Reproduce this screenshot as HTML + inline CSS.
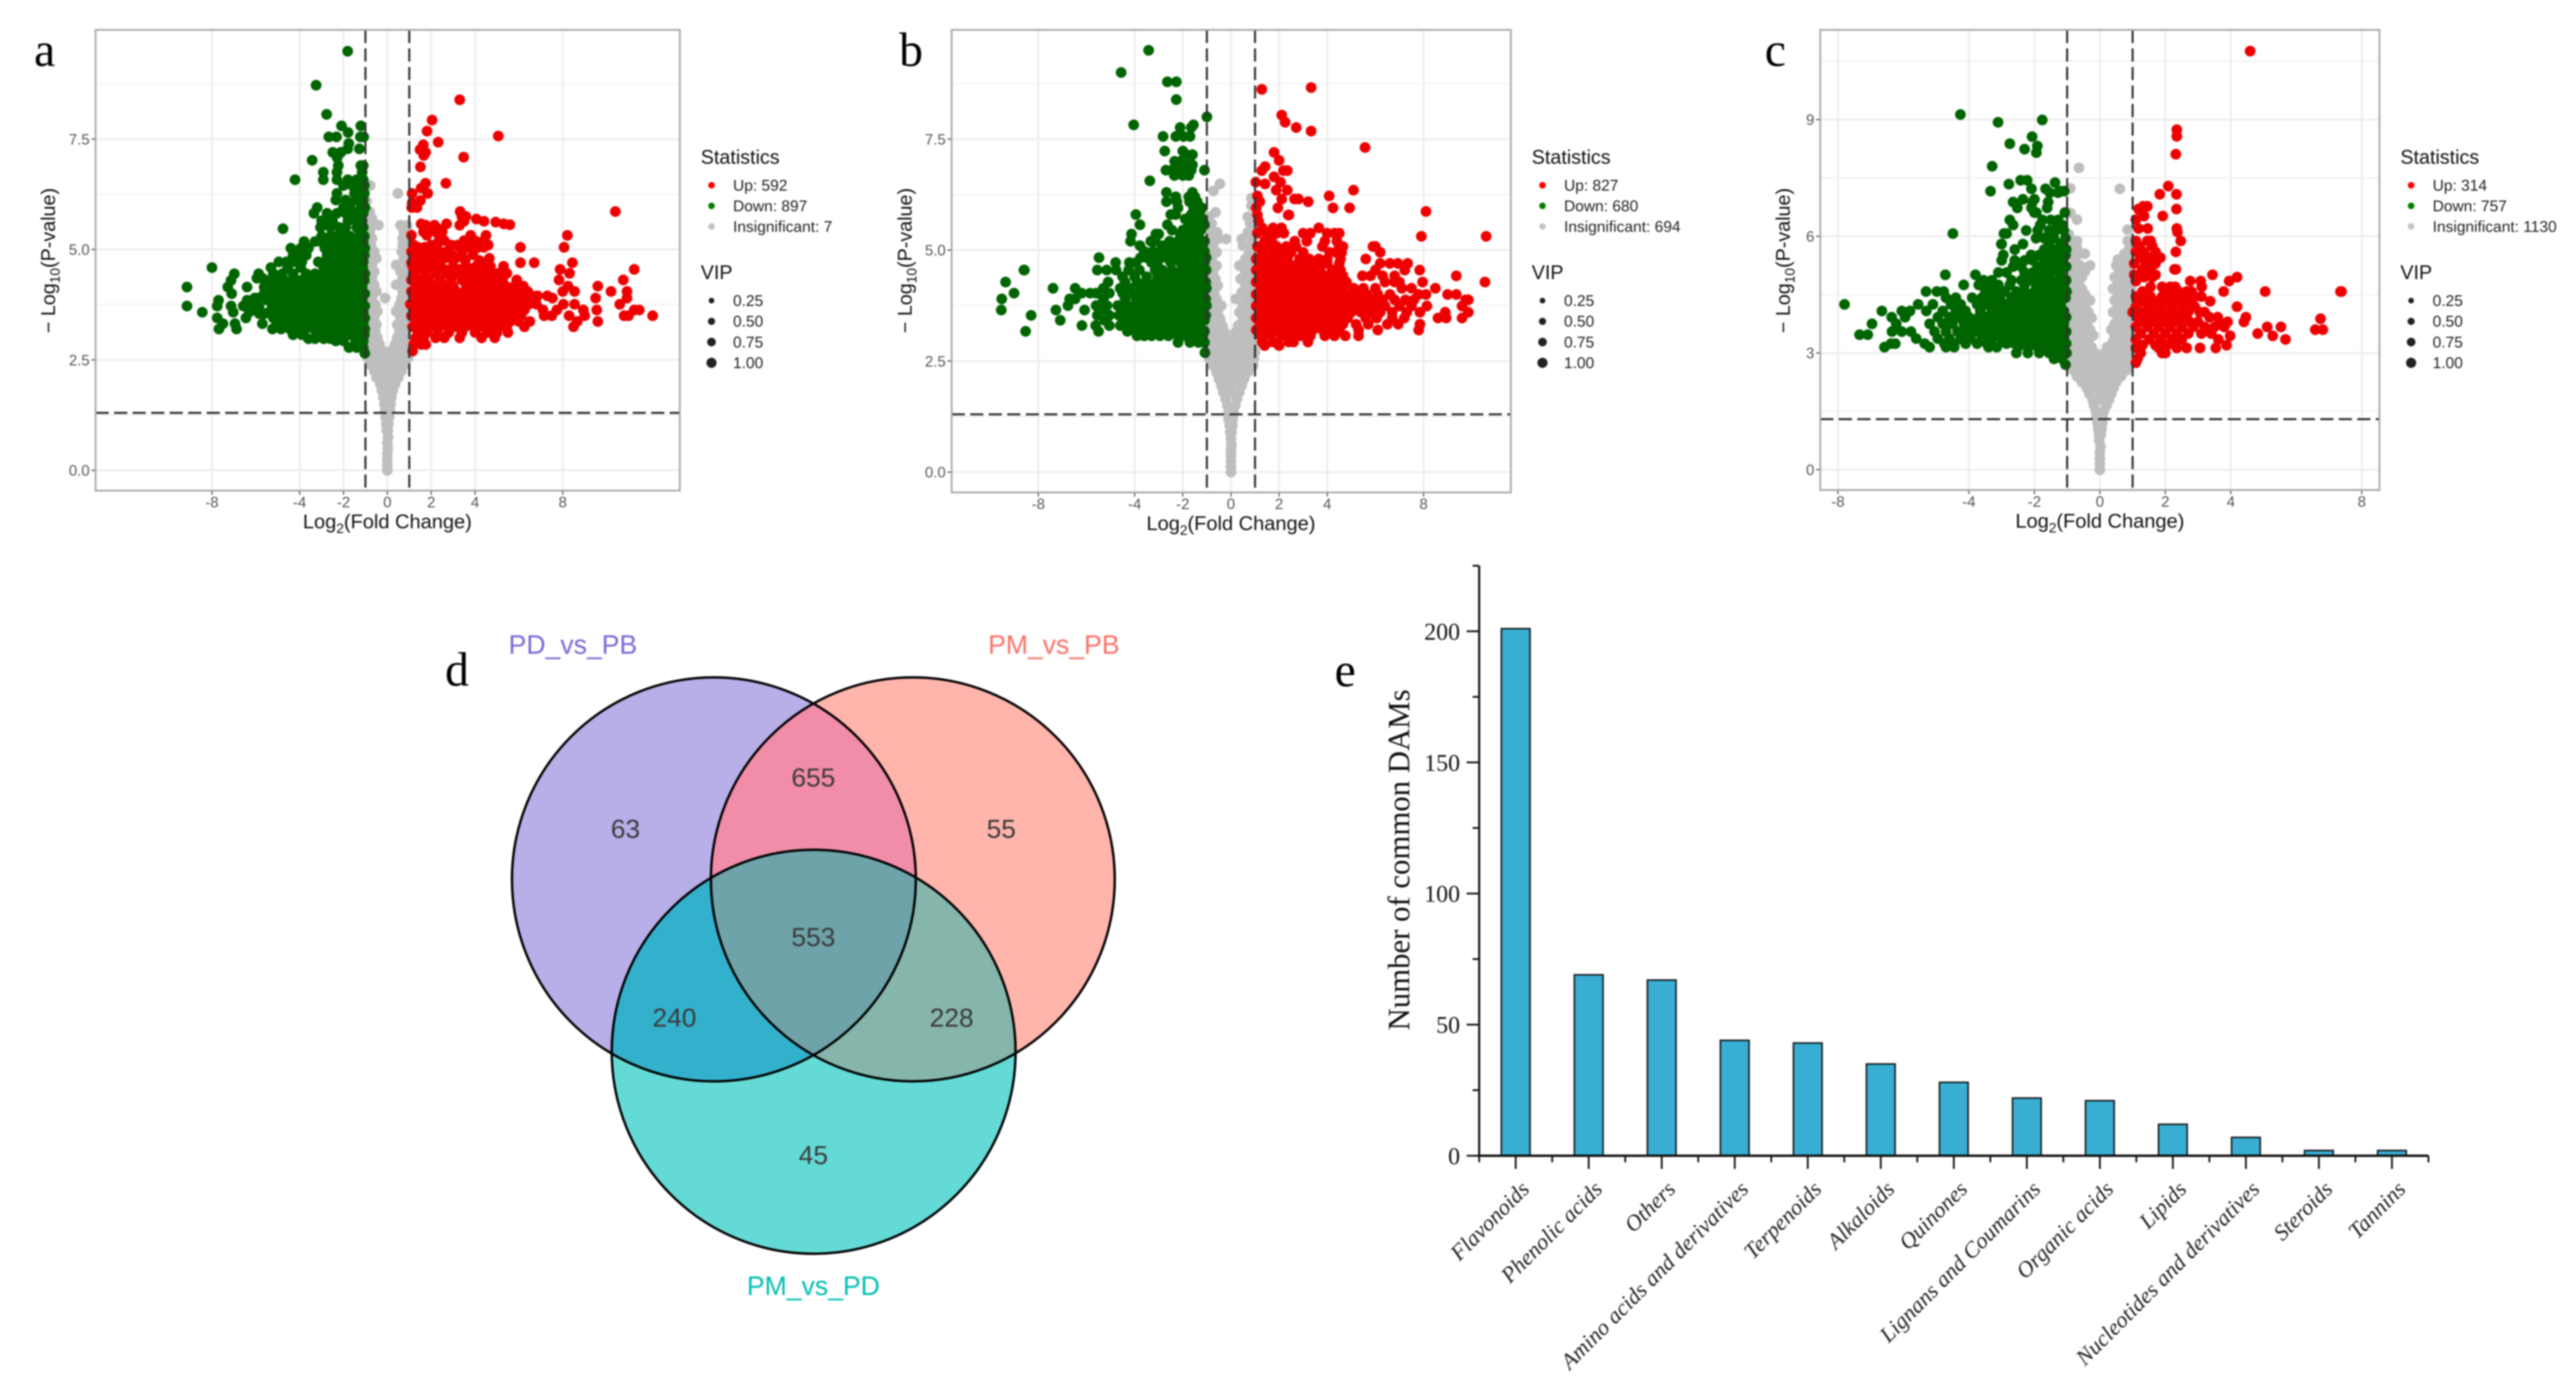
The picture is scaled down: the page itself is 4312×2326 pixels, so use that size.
<!DOCTYPE html>
<html lang="en">
<head>
<meta charset="utf-8">
<title>Volcano plots, Venn diagram and DAM bar chart</title>
<style>
html,body{margin:0;padding:0;background:#fff;}
svg{display:block;filter:blur(1.2px);}
text{font-family:"Liberation Sans",sans-serif;}
.serif{font-family:"Liberation Serif",serif;}
</style>
</head>
<body>
<svg id="fig" xmlns="http://www.w3.org/2000/svg" width="4312" height="2326" viewBox="0 0 4312 2326">
<rect width="4312" height="2326" fill="#fff"/>
<defs>
<clipPath id="clip-c1"><circle cx="1195" cy="1471.5" r="338"/></clipPath>
<clipPath id="clip-c2"><circle cx="1528" cy="1471.5" r="338"/></clipPath>
<clipPath id="clip-c3"><circle cx="1362" cy="1760" r="338"/></clipPath>
</defs>
<text class="serif" x="57" y="110" font-size="80" fill="#000">a</text>
<text class="serif" x="1505" y="110" font-size="80" fill="#000">b</text>
<text class="serif" x="2954" y="110" font-size="80" fill="#000">c</text>
<text class="serif" x="745" y="1147" font-size="80" fill="#000">d</text>
<text class="serif" x="2234" y="1148" font-size="80" fill="#000">e</text>

<g id="venn">
<circle cx="1195" cy="1471.5" r="338" fill="#b8aee8"/>
<circle cx="1528" cy="1471.5" r="338" fill="#ffb4ac"/>
<circle cx="1362" cy="1760" r="338" fill="#64dad6"/>
<g clip-path="url(#clip-c1)"><circle cx="1528" cy="1471.5" r="338" fill="#f18da8"/><circle cx="1362" cy="1760" r="338" fill="#33b1cc"/></g>
<g clip-path="url(#clip-c2)"><circle cx="1362" cy="1760" r="338" fill="#85b5ab"/></g>
<g clip-path="url(#clip-c1)"><g clip-path="url(#clip-c2)"><circle cx="1362" cy="1760" r="338" fill="#6ea3a9"/></g></g>
<g fill="none" stroke="#000" stroke-width="4">
<circle cx="1195" cy="1471.5" r="338"/>
<circle cx="1528" cy="1471.5" r="338"/>
<circle cx="1362" cy="1760" r="338"/>
</g>
<g font-size="44.5" text-anchor="middle">
<text x="959" y="1094" fill="#7b68d8">PD_vs_PB</text>
<text x="1764" y="1094" fill="#fa7268">PM_vs_PB</text>
<text x="1361.5" y="2167" fill="#00bfb5">PM_vs_PD</text>
</g>
<g font-size="44" text-anchor="middle" fill="#3a3a3a">
<text x="1361.5" y="1316">655</text>
<text x="1047" y="1402">63</text>
<text x="1676" y="1402">55</text>
<text x="1361.5" y="1583">553</text>
<text x="1129" y="1718">240</text>
<text x="1593" y="1718">228</text>
<text x="1361.5" y="1948">45</text>
</g>
</g>
<g id="chart-a"></g>
<g id="chart-b"></g>
<g id="chart-c"></g>
<g id="chart-e"></g>
</svg>
<script>
// Volcano rows: first number = -log10(p), remaining numbers = log2(FC) of points on that level
const aXTicks=[-8,-4,-2,0,2,4,8];
const aYTicks=[0,2.5,5,7.5];
const aYTickLabels=["0.0","2.5","5.0","7.5"];
const aYMinor=[1.25,3.75,6.25,8.75];
const aLegend=["Up: 592","Down: 897","Insignificant: 7"];
const aDownRows=[[9.49,-1.81],[8.72,-3.25],[8.06,-2.77],[7.8,-2.09,-1.21],[7.65,-1.79],[7.55,-2.67,-2.32,-1.23,-1.08],[7.4,-1.76],[7.28,-1.81,-1.28],[7.2,-2.12,-2.49],[7.08,-2.29],[7.02,-3.43],[6.9,-2.24,-1.21,-1.1],[6.75,-2.92,-2.3,-1.15],[6.58,-2.92,-4.21,-2.3,-1.8,-1.4,-1.1],[6.45,-2,-1.6,-1.3,-1.05],[6.27,-2.3,-1.5,-1.2,-1.05],[6.12,-2.35,-1.9,-1.45,-1.1],[5.95,-3.2,-2,-1.7,-1.2,-1.02],[5.82,-3.35,-2.75,-2.3,-1.9,-1.5,-1.1],[5.65,-3,-2.8,-2.5,-1.8,-1.4,-1.15],[5.5,-3.05,-2.6,-2.2,-1.9,-1.4,-1.1],[5.47,-4.76],[5.3,-3,-2.6,-2.3,-2,-1.7,-1.3,-1.05],[5.18,-3.8,-3.3,-3.05,-2.7,-2.4,-2.05,-1.75,-1.4,-1.1],[5.03,-4.4,-3.95,-3.6,-2.85,-2.55,-2.2,-1.9,-1.55,-1.2,-1.03],[4.87,-4.3,-4.05,-3.7,-2.75,-2.45,-2.1,-1.75,-1.4,-1.05],[4.72,-4.95,-4.6,-4.2,-3.9,-3.15,-2.85,-2.5,-2.15,-1.8,-1.45,-1.1],[4.59,-8,-5.31,-4.55,-3.95,-2.9,-2.55,-2.2,-1.85,-1.5,-1.12],[4.45,-6.98,-5.87,-5.2,-4.8,-4.3,-3.7,-3.3,-2.95,-2.6,-2.25,-1.9,-1.55,-1.2,-1.03],[4.35,-5.7,-5.95],[4.3,-7.13,-5.55,-5.1,-4.7,-4.35,-3.95,-3.55,-3.2,-2.8,-2.4,-2.05,-1.7,-1.35,-1.05],[4.15,-9.14,-7.28,-6.4,-5.62,-5.2,-4.85,-4.45,-4.1,-3.7,-3.35,-3,-2.6,-2.25,-1.85,-1.5,-1.15],[4,-7.1,-5.62,-5.3,-5,-4.6,-4.25,-3.9,-3.5,-3.15,-2.8,-2.4,-2.05,-1.7,-1.3,-1.03],[3.9,-5.9,-6.05],[3.85,-7.7,-6.4,-5.45,-5.1,-4.75,-4.4,-4,-3.65,-3.3,-2.95,-2.55,-2.2,-1.85,-1.5,-1.15],[3.72,-9.14,-7.76,-7.13,-6.57,-6.2,-5.85,-5.25,-4.9,-4.55,-4.2,-3.8,-3.45,-3.1,-2.7,-2.35,-2,-1.6,-1.25,-1.03],[3.58,-8.44,-7.03,-6.3,-5.4,-5.05,-4.7,-4.35,-4,-3.6,-3.25,-2.9,-2.5,-2.15,-1.8,-1.4,-1.1],[3.55,-5.85,-5.6],[3.45,-7.76,-6.45,-5.2,-4.85,-4.5,-4.15,-3.75,-3.4,-3.05,-2.65,-2.3,-1.95,-1.6,-1.25,-1.03],[3.32,-7.5,-6.95,-5.7,-5.05,-4.7,-4.3,-3.95,-3.6,-3.2,-2.85,-2.5,-2.1,-1.75,-1.4,-1.1],[3.2,-7.68,-6.88,-5.24,-4.85,-4.45,-4.1,-3.75,-3.35,-3,-2.65,-2.3,-1.9,-1.55,-1.2,-1.03],[3.07,-4.3,-3.9,-3.2,-2.9,-2.5,-2.1,-1.7,-1.35,-1.05],[2.98,-3.6,-3.3,-2.9,-2.6],[2.93,-2.35,-2,-1.45,-1.1],[2.78,-1.75,-1.4,-1.1],[2.65,-1.03]];
const aUpRows=[[8.39,3.3],[7.93,2.04],[7.68,1.81],[7.57,5.06],[7.43,2.32],[7.37,1.64],[7.26,1.49],[7.2,1.74],[7.13,1.66],[7.09,3.48],[6.87,1.51],[6.5,2.67,1.74],[6.39,1.54],[6.27,1.13,1.84],[6.11,1.51],[6.05,1.13],[5.95,1.11,1.35],[5.86,10.4,3.32],[5.75,3.58,3.4],[5.69,4.06],[5.64,4.41,3.5],[5.62,4.94],[5.58,5.31,1.54,2.7],[5.56,5.59],[5.55,1.75,2.15,3.3],[5.47,1.9,2.3],[5.4,1.65,2.2,2.5],[5.32,8.21,1.1,1.8,3.8,4.5],[5.2,2.35,2.6,4,4.4,3.5],[5.1,1.2,2,2.25,2.9,3.2,3.65,4.6],[5.05,6.07,8.06,1.4,1.7,3.3,3.7,4.4,4.15],[4.95,1.1,1.6,2,2.4,2.7],[4.88,1.25,2.2,2.95,3.4,3.9],[4.8,2.6,2.9,3.1,1.4,1.8,4.65],[4.75,2.1,2.4,3.55,4.2],[4.7,6.07,6.7,8.44,1.1,1.5],[4.62,1.15,1.55,1.95,2.35,3,3.6,4.05,4.4,4.7,5.3],[4.55,1.3,1.7,2.1,2.6,3.3,3.85,11.26,7.88],[4.46,8.31,1.2,1.7,2.2,2.7,3.1,3.6,4,4.35,4.7,5.05,5.45],[4.31,7.83,10.76,1.1,1.5,1.9,2.4,2.9,3.4,3.8,4.15,4.5,4.85,5.25,5.9],[4.17,8.24,9.6,1.3,1.7,2.15,2.6,3,3.6,3.95,4.3,4.65,5,5.4,5.8,6.2],[4.05,8,8.54,10.2,10.93,1.1,1.5,1.9,2.3,2.75,3.15,3.55,3.9,4.25,4.6,4.95,5.3,5.7,6.1,6.4],[3.95,6.6,6.85,7.3],[3.9,7.53,9.5,10.93,1.25,1.65,2.05,2.45,2.85,3.25,3.65,4.05,4.4,4.75,5.1,5.5,5.9,6.3],[3.76,8.03,8.54,10.6,1.05,1.45,1.85,2.25,2.65,3.05,3.45,3.85,4.25,4.6,4.95,5.3,5.7,6.1,6.45,6.8],[3.63,7.73,8.94,9.55,11.49,11.26,1.25,1.65,2.05,2.45,2.85,3.25,3.65,4.05,4.45,4.8,5.15,5.5,5.9,6.25,7.1],[3.5,7.15,7.5,8.29,9,10.8,12.1,11,1.1,1.5,1.9,2.3,2.7,3.1,3.5,3.9,4.3,4.65,5,5.35,5.75,6.1],[3.37,8.66,9.6,1.3,1.7,2.1,2.5,2.9,3.3,3.7,4.1,4.5,4.85,5.2,5.6,6,6.5],[3.25,8.49,1.15,1.55,1.95,2.35,2.75,3.15,3.55,3.95,4.35,4.75,5.1,5.45,6.25],[3.12,1.4,1.8,2.3,2.8,3.4,4,4.55,5,5.5],[3,1.3,1.65,2.2,2.6,3.3,4.3,4.9],[2.85,1.2,1.55,1.75],[2.7,1.15]];
const aGreyRows=[[0,0],[0.12,0],[0.25,0],[0.38,0],[0.5,0.02],[0.62,0],[0.75,0.03],[0.9,0.02,-0.03],[1.05,0.05,-0.05],[1.2,0.08,-0.08],[1.35,0.12,-0.1],[1.5,0.15,-0.13],[1.65,0.18,-0.18],[1.8,0.25,-0.25,0],[1.95,0.35,-0.32,0],[2.1,0.5,0.2,-0.15,-0.5],[2.25,0.65,0.35,0,-0.3,-0.6],[2.4,0.8,0.5,0.2,-0.15,-0.45,-0.8],[2.55,0.95,0.65,0.35,0.05,-0.3,-0.6,-0.9],[2.7,0.95,0.7,0.4,0.15,-0.2,-0.5,-0.8,-0.95],[2.85,0.9,0.65,0.35,-0.35,-0.65,-0.9],[3,0.95,0.7,0.45,-0.45,-0.7,-0.95],[3.15,0.85,0.55,-0.55,-0.85],[3.3,0.95,0.7,0.45,-0.5,-0.75,-0.95],[3.45,0.85,0.6,-0.6,-0.85],[3.6,0.95,0.7,0.4,-0.45,-0.75,-0.95],[3.75,0.8,0.55,-0.55,-0.85],[3.9,0.9,0.65,-0.1,-0.7,-0.95],[4.05,0.7,0.95,-0.8,-0.5],[4.2,0.85,0.4,-0.6,-0.9],[4.35,0.7,0.95,-0.7,-0.95],[4.5,0.6,0.85,-0.6,-0.85],[4.65,0.4,0.9,-0.7,-0.95],[4.8,0.75,0.95,-0.5,-0.8],[4.95,0.65,0.9,-0.85,-0.6],[5.1,0.7,0.95,-0.75,-0.95],[5.25,0.7,0.85,-0.7],[5.4,0.75,0.95,-0.8],[5.55,0.6,0.9,-0.4,-0.7,-0.95],[5.7,-0.7,-0.9],[5.85,-0.8],[6.1,-0.95],[6.27,0.48],[6.45,-0.78]];

const bXTicks=[-8,-4,-2,0,2,4,8];
const bYTicks=[0,2.5,5,7.5];
const bYTickLabels=["0.0","2.5","5.0","7.5"];
const bYMinor=[1.25,3.75,6.25,8.75];
const bLegend=["Up: 827","Down: 680","Insignificant: 694"];
const bDownRows=[[9.5,-3.42],[9,-4.56],[8.79,-2.64,-2.27],[8.39,-2.27],[8,-1],[7.82,-4.04,-1.56],[7.76,-2.11,-1.65],[7.56,-2.82,-1.7,-1.97,-2.29],[7.23,-2.75,-2],[7.15,-1.6,-1.85],[7,-2.34,-2.1],[6.92,-1.6,-1.75,-2.1],[6.8,-1.1,-2.7,-2.45,-2.15,-1.9,-1.65],[6.68,-2,-1.75,-2.35],[6.56,-3.37],[6.3,-2.68,-1.6],[6.2,-2.29,-1.5,-1.75],[6.09,-2.68,-1.72,-1.4,-2.25],[5.95,-2.2,-1.45,-1.2,-1.55],[5.8,-3.95,-2.5,-2.3,-1.65,-1.3],[5.7,-1.9,-1.5,-1.2],[5.57,-3.78,-2.64,-1.75,-1.45,-1.1],[5.45,-2.45,-2,-1.55,-1.25],[5.36,-4.13,-3.12,-3,-2.1,-1.7,-1.35],[5.2,-4.17,-3.33,-3.15,-2.55,-2.2,-1.85,-1.5,-1.1],[5.1,-3.78,-2.85,-2.4,-1.9,-1.6,-1.25],[4.97,-3.6,-3.25,-2.95,-2.6,-2.2,-1.8,-1.45,-1.1],[4.83,-5.48,-3.75,-3.5,-3.1,-2.7,-2.3,-1.95,-1.6,-1.25,-1.03],[4.72,-4.79,-4.22,-3.95,-3.3,-3.05,-2.5,-2.1,-1.75,-1.4,-1.1],[4.55,-8.6,-8.58,-5.55,-5.16,-4.77,-4.25,-3.8,-3.15,-2.85,-2.45,-2.05,-1.65,-1.3,-1.03],[4.4,-4.5,-4,-3.5,-3.05,-2.7,-2.3,-1.95,-1.6,-1.2],[4.28,-9.36,-5.1,-4.4,-3.9,-3.5,-3.1,-2.75,-2.4,-2,-1.65,-1.3,-1.05],[4.14,-7.39,-6.47,-5.3,-4.6,-4.2,-3.75,-3.35,-3,-2.65,-2.3,-1.95,-1.6,-1.25,-1.02],[4.03,-9.01,-6.2,-5.85,-5.6,-5.05,-4.5,-4.05,-3.65,-3.3,-2.95,-2.6,-2.25,-1.9,-1.55,-1.15],[3.9,-9.52,-6.47,-6.7,-5.3,-4.4,-3.95,-3.55,-3.2,-2.85,-2.5,-2.15,-1.8,-1.45,-1.05],[3.75,-6.77,-5.6,-5.15,-4.7,-4.3,-3.9,-3.5,-3.15,-2.8,-2.45,-2.1,-1.75,-1.4,-1.02],[3.65,-9.54,-7.27,-6.08,-5.4,-4.5,-4.1,-3.7,-3.3,-2.95,-2.6,-2.25,-1.9,-1.55,-1.2],[3.53,-8.3,-5.55,-5.05,-4.65,-4.25,-3.85,-3.45,-3.1,-2.75,-2.4,-2.05,-1.7,-1.35,-1.05],[3.42,-7.09,-5.25,-4.4,-4,-3.6,-3.25,-2.9,-2.55,-2.2,-1.85,-1.5,-1.1],[3.3,-6.19,-5.62,-5.05,-4.6,-4.2,-3.8,-3.4,-3.05,-2.7,-2.35,-2,-1.65,-1.3],[3.17,-8.53,-5.5,-4.3,-3.95,-3.55,-3.2,-2.85,-2.5,-2.15,-1.8,-1.45,-1.1],[3.07,-3.9,-3.6,-3.3,-2.95,-2.6,-2.2,-1.9,-1.55,-1.2],[2.92,-2.2,-1.7,-1.35,-1.1],[2.69,-1.08]];
const bUpRows=[[8.66,3.33],[8.62,1.28],[8.04,2.11],[7.88,2.25],[7.76,2.71],[7.68,3.33],[7.31,5.57],[7.2,1.79],[7.02,2],[6.88,1.42],[6.79,1.28,2.18,2.34],[6.65,1.79],[6.53,1.03,2.06],[6.49,1.42],[6.35,5.09,1.88,2.34],[6.22,4.08,1.1],[6.15,2.64,2.8,2.11],[6.09,3.21,1.2],[5.95,4.24,4.93,1.95,1.05],[5.87,8.1],[5.79,2.41,2.38,1.1],[5.65,1.15],[5.5,1.3,1.75,2.1,3.65],[5.38,1.1,1.5,1.9,2.2,3,3.3,4,4.3,4.5],[5.31,7.91,10.6],[5.2,1.4,1.7,2.65,3.15,3.9,4.4],[5.08,1.1,1.55,1.9,2.3,2.7,3.8,4.5,4.65,5.9,6],[4.95,1.3,1.75,2.15,2.5,3,4.1,4.35,4.6,6.2],[4.8,1.05,1.5,1.9,2.35,2.85,3.25,3.65,4,4.55,5.6],[4.7,6.2,6.6,6.93,7.34,1.2,1.6,2.05,2.4,2.8,3.2,3.6,4,4.5],[4.55,6,7.22,7.84,1.05,1.4,1.8,2.2,2.6,3,3.35,3.7,4.2,4.55],[4.42,5.46,5.8,6.3,6.8,9.36,1.25,1.65,2,2.4,2.8,3.15,3.55,3.9,4.3,4.65],[4.28,7,7.96,10.55,1.05,1.45,1.85,2.25,2.6,2.95,3.35,3.7,4.05,4.45,4.8,6.4,6.8],[4.14,5.5,6,7.1,7.5,8.49,1.25,1.6,2,2.4,2.75,3.15,3.5,3.85,4.25,4.65,5.1],[4,7.8,8.1,9,9.36,1.05,1.4,1.8,2.15,2.55,2.9,3.3,3.65,4,4.4,4.8,5.25,5.65,6.1,6.6],[3.88,9.75,9.86,7.6,7.25,1.2,1.6,1.95,2.35,2.75,3.1,3.45,3.85,4.2,4.6,5,5.4,5.85,6.3,6.8],[3.74,8.14,9.6,1.05,1.4,1.8,2.15,2.55,2.9,3.3,3.65,4,4.4,4.8,5.2,5.6,6,6.4,7,7.5],[3.6,8.9,9.86,1.2,1.6,1.95,2.35,2.75,3.1,3.45,3.85,4.2,4.6,5,5.4,5.8,6.2,6.7,7.3,7.85],[3.47,8.6,8.94,9.6,1.05,1.4,1.8,2.15,2.55,2.9,3.3,3.65,4.05,4.45,4.85,5.6,6.05,6.7,7.2],[3.33,1.2,1.6,1.95,2.35,2.75,3.1,3.5,3.9,4.25,4.65,5.2,5.7,6.5,6.95,7.85],[3.2,1.05,1.4,1.8,2.2,2.6,3,3.4,3.8,4.15,4.5,5.3,6.1,7.8],[3.07,1.25,1.65,2.1,2.5,2.9,3.3,3.9,4.3,4.75,5.3],[2.93,1.3,1.75,2.4,2.6,3.2],[2.85,1.4,2]];
const bGreyRows=[[0,0],[0.12,0],[0.25,0],[0.38,0],[0.5,0],[0.62,0.02],[0.75,0],[0.9,0.03,-0.03],[1.05,0.06,-0.05],[1.2,0.08,-0.1],[1.35,0.1,-0.1],[1.5,0.18,-0.15],[1.65,0.25,-0.22],[1.8,0.35,-0.32,0],[1.95,0.45,-0.4,0],[2.1,0.55,0.2,-0.2,-0.5],[2.25,0.7,0.4,0.05,-0.3,-0.6],[2.4,0.92,0.6,0.25,-0.1,-0.45,-0.75],[2.55,0.95,0.7,0.4,0.1,-0.25,-0.6,-0.9],[2.7,1,0.75,0.45,0.2,-0.15,-0.5,-0.8],[2.85,0.95,0.65,0.35,0,-0.35,-0.65,-0.95],[3,0.9,0.6,0.3,-0.1,-0.45,-0.75,-0.95],[3.15,0.75,0.5,0.2,-0.25,-0.6,-0.85],[3.3,0.95,0.6,0.3,-0.35,-0.7,-0.95],[3.45,0.8,0.5,-0.45,-0.8],[3.6,0.95,0.65,0.35,-0.55,-0.9],[3.75,0.8,0.5,-0.4,-0.7,-0.95],[3.9,0.95,0.65,0.2,-0.6,-0.85],[4.05,0.8,0.45,-0.7,-0.95],[4.2,0.95,0.6,-0.55,-0.85],[4.35,0.75,0.4,-0.65,-0.95],[4.5,0.9,0.6,-0.75,-0.9],[4.65,0.35,0.75,0.95,-0.6,-0.85],[4.8,0.6,0.85,-0.8,-0.95],[4.95,0.75,0.9,-0.6,-0.9],[5.1,0.5,0.8,-0.75,-0.95],[5.25,0.45,0.9,-0.2,-0.55,-0.9],[5.4,0.7,0.95,-0.57,-0.85],[5.6,0.8,0.95,-0.8],[5.75,0.7,0.9,-0.92],[5.85,-0.64],[6,0.85,0.95],[6.17,0.92,0.85],[6.33,-0.73],[6.49,-0.46]];

const cXTicks=[-8,-4,-2,0,2,4,8];
const cYTicks=[0,3,6,9];
const cYTickLabels=["0","3","6","9"];
const cYMinor=[1.5,4.5,7.5,10.5];
const cLegend=["Up: 314","Down: 757","Insignificant: 1130"];
const cDownRows=[[9.13,-4.26],[8.99,-1.76],[8.93,-3.11],[8.56,-2.07],[8.38,-2.75],[8.32,-1.91],[8.24,-2.3],[8.15,-1.94],[7.8,-3.29],[7.44,-2.42,-2.22],[7.38,-1.37],[7.34,-2.78],[7.22,-2.09,-1.66],[7.16,-3.34,-1.09,-1.18],[7.12,-1.53,-1.28],[6.95,-2.35,-2],[6.88,-2.65,-2.06,-1.58],[6.73,-2.52,-2.09,-1.61],[6.61,-1.94,-1.07,-2],[6.42,-2.75,-1.5,-1.28,-1.75],[6.29,-2.65,-1.82,-1.15,-1.3],[6.15,-2.25,-1.9,-1.55,-1.35,-1.1],[6.07,-4.49,-2.93,-2.85],[5.95,-1.95,-1.7,-1.4,-1.05],[5.8,-3.01,-3,-2.35,-1.2,-1.55],[5.66,-2.6,-1.7,-1.45,-1.2,-1.03],[5.52,-2.95,-2.1,-1.85,-1.55,-1.3,-1.05],[5.38,-3,-2.6,-2.3,-2.05,-1.7,-1.4,-1.15],[5.22,-2.65,-2.4,-1.9,-1.6,-1.3,-1.03],[5.07,-3.1,-2.85,-2.3,-2.05,-1.75,-1.5,-1.2],[5.01,-4.72,-3.8],[4.87,-3.55,-3.3,-2.7,-2.4,-2.1,-1.85,-1.55,-1.28,-1.03],[4.75,-4.16,-3.7,-3.4,-3.1,-2.75,-2.3,-1.95,-1.65,-1.4,-1.1],[4.58,-5.31,-4.98,-4.77,-3.5,-3.2,-2.9,-2.55,-2.3,-2,-1.75,-1.45,-1.2,-1.02],[4.42,-4.7,-4.4,-3.9,-3.6,-3.35,-3.05,-2.7,-2.4,-2.15,-1.85,-1.6,-1.3,-1.05],[4.25,-7.8,-5.55,-5.1,-4.55,-4.25,-3.75,-3.45,-3.2,-2.9,-2.6,-2.3,-2.05,-1.75,-1.5,-1.2],[4.08,-6.66,-6.05,-5.8,-5.3,-4.8,-4.4,-4.1,-3.65,-3.3,-3.05,-2.75,-2.5,-2.2,-1.95,-1.65,-1.4,-1.1],[3.92,-6.36,-5.95,-4.95,-4.6,-4.3,-4,-3.7,-3.45,-3.15,-2.9,-2.6,-2.35,-2.05,-1.8,-1.5,-1.25,-1.03],[3.75,-6.96,-6.22,-5.2,-4.8,-4.5,-4.15,-3.85,-3.55,-3.3,-3,-2.75,-2.45,-2.2,-1.9,-1.65,-1.35,-1.1],[3.55,-6.35,-6.05,-5.77,-5.05,-4.7,-4.35,-4.05,-3.75,-3.45,-3.15,-2.9,-2.6,-2.35,-2.05,-1.8,-1.5,-1.25,-1.03],[3.47,-7.34,-7.09],[3.37,-5.61,-4.95,-4.6,-4.25,-3.95,-3.6,-3.3,-3,-2.75,-2.45,-2.2,-1.9,-1.65,-1.4,-1.1],[3.24,-6.38,-6.25,-5.35,-4.75,-4.45,-4.1,-3.75,-3.45,-2.85,-2.6,-2.3,-2.05,-1.75,-1.5,-1.2,-1.03],[3.15,-6.58,-5.2,-4.7,-4.45,-3.4,-3.15,-2.5,-2.2,-1.9,-1.6,-1.3,-1.1],[3,-2.55,-2.2,-1.85,-1.55,-1.25,-1.02],[2.85,-1.4,-1.15],[2.7,-1.05]];
const cUpRows=[[10.76,4.59],[8.74,2.35],[8.57,2.35],[8.11,2.32],[7.29,2.09],[7.08,1.83,2.34],[6.77,1.32,1.45],[6.7,1.18,2.34],[6.52,1.35,1.92],[6.43,1.1],[6.2,2.35,1.46,1.18],[6.11,2.37],[5.88,2.47,1.45,1.1,1.55],[5.75,1.2,1.6],[5.6,2.32,1.1,1.35,1.7],[5.45,1.25,1.55,1.85],[5.3,1.05,1.4,1.7],[5.15,2.32,2.28,1.3,1.55],[5.01,3.44,1.05,1.7],[4.95,4.19,1.35,1.6],[4.85,3.95,2.76,3.08,1.1],[4.7,3.11,1.55,1.9,2.15,2.3],[4.58,3.78,5.05,7.35,7.38,2.65,2.8,1.3,2,2.4],[4.45,1.1,1.55,1.9,2.25,2.6,2.9,3.1],[4.33,3.37,1.3,1.7,2.05,2.4,2.75],[4.19,4.19,1.1,1.5,1.85,2.2,2.55,2.9],[4.05,1,1.3,1.7,2,2.35,2.7,3.05,3.2],[3.92,1.15,1.5,1.85,2.2,2.5,3.35,3.6,4.46],[3.88,6.74],[3.8,1.3,1.65,2,2.3,2.75,3,3.9,3.65,4.4],[3.67,5.11,5.53,1.1,1.45,1.8,2.15,2.5,2.85,3.2,3.5,3.8],[3.6,6.58,6.81],[3.5,1.25,1.65,2,2.35,2.7,4.82,3.1,3.4],[3.44,5.28,3.98],[3.35,5.67,1.1,1.5,1.85,2.2,2.5,3.62],[3.2,1.3,1.7,2.05,2.3,3.87],[3.13,1.1,1.8,2.35,2.65,3.06,3.54],[3,1.25,1.9,2],[2.85,1.15],[2.75,1.1]];
const cGreyRows=[[0,0],[0.15,0],[0.3,0],[0.45,0],[0.6,0.02],[0.75,-0.02],[0.9,0.03,-0.03],[1.05,0.05,-0.05],[1.2,0.07,-0.07],[1.35,0.08,-0.1],[1.5,0.12,-0.12],[1.65,0.2,-0.18],[1.8,0.28,-0.22,0.04],[1.95,0.35,-0.32,0.02],[2.1,0.42,0.12,-0.15,-0.4],[2.25,0.5,0.2,-0.05,-0.3,-0.55],[2.4,0.65,0.4,0.15,-0.15,-0.4,-0.7],[2.55,0.8,0.55,0.3,0.05,-0.25,-0.55,-0.8],[2.7,0.92,0.65,0.4,0.15,-0.15,-0.4,-0.65,-0.9],[2.85,0.95,0.7,0.45,0.2,-0.1,-0.35,-0.6,-0.85],[3,0.9,0.65,0.4,0.15,-0.15,-0.45,-0.7,-0.95],[3.15,0.95,0.7,0.45,0.22,-0.25,-0.5,-0.75,-0.95],[3.3,0.9,0.65,0.4,-0.35,-0.6,-0.85],[3.45,0.95,0.7,0.45,-0.2,-0.45,-0.7,-0.95],[3.6,0.9,0.62,0.35,-0.3,-0.55,-0.8],[3.75,0.95,0.7,0.45,-0.4,-0.65,-0.92],[3.9,0.85,0.55,-0.25,-0.5,-0.75,-0.95],[4.05,0.95,0.7,0.4,-0.35,-0.6,-0.85],[4.2,0.85,0.55,-0.45,-0.7,-0.95],[4.35,0.95,0.7,0.45,-0.3,-0.55,-0.8],[4.5,0.85,0.55,-0.45,-0.7,-0.95],[4.65,0.95,0.7,0.4,-0.55,-0.85],[4.8,0.85,0.55,-0.65,-0.95],[4.95,0.95,0.7,0.45,-0.55,-0.85],[5.1,0.85,0.6,-0.45,-0.7,-0.95],[5.25,0.95,0.7,0.5,-0.3,-0.6,-0.85],[5.4,0.85,0.55,-0.75,-0.95],[5.55,0.95,0.75,-0.46,-0.65,-0.9],[5.7,0.9,-0.7,-0.95],[5.88,0.95,0.85,-0.7,-0.9],[6.05,-0.95],[6.17,0.85],[6.43,-0.7],[6.6,-0.9],[7.22,0.61],[7.23,-0.9],[7.76,-0.64]];

const vipLabels=["0.25","0.50","0.75","1.00"];
const vipValues=[0.25,0.5,0.75,1];

const barCategories=["Flavonoids","Phenolic acids","Others","Amino acids and derivatives","Terpenoids","Alkaloids","Quinones","Lignans and Coumarins","Organic acids","Lipids","Nucleotides and derivatives","Steroids","Tannins"];
const barValues=[201,69,67,44,43,35,28,22,21,12,7,2,2];
const barMajorTicks=[0,50,100,150,200];
const barMinorTicks=[25,75,125,175,225];

const NS='http://www.w3.org/2000/svg';
function mk(parent,tag,attrs,txt){
  const el=document.createElementNS(NS,tag);
  for(const k in attrs){el.setAttribute(k,attrs[k]);}
  if(txt!==undefined){el.textContent=txt;}
  parent.appendChild(el);
  return el;
}
function slug(s){return String(s).toLowerCase().replace(/[^a-z0-9.]+/g,'-');}

function drawPoints(g,rows,fx,fy,color,name){
  rows.forEach(function(row){
    row.slice(1).forEach(function(v){
      const el=mk(g,'circle',{cx:fx(v),cy:fy(row[0]),r:9,fill:color});
      
      
    });
  });
}

function drawVolcano(id,p,xTicks,yTicks,yLabels,yMinor,downRows,upRows,greyRows,legend){
  const g=document.getElementById(id);
  const fx=function(v){return p.x0+v*p.xu;};
  const fy=function(v){return p.y0-v*p.yu;};
  const bg=mk(g,'rect',{x:p.l,y:p.t,width:p.r-p.l,height:p.b-p.t,fill:'#fff'});
  
  
  yMinor.forEach(function(v){
    const el=mk(g,'line',{x1:p.l,x2:p.r,y1:fy(v),y2:fy(v),stroke:'#f0f0f0',"stroke-width":2});
    
    
  });
  yTicks.forEach(function(v,i){
    const gl=mk(g,'line',{x1:p.l,x2:p.r,y1:fy(v),y2:fy(v),stroke:'#ececec',"stroke-width":3});
    
    
    const tk=mk(g,'line',{x1:p.l-7,x2:p.l,y1:fy(v),y2:fy(v),stroke:'#555',"stroke-width":2});
    
    
    const lb=mk(g,'text',{x:p.l-10,y:fy(v)+9,"text-anchor":'end',"font-size":25,fill:'#555'},yLabels[i]);
    
    
  });
  xTicks.forEach(function(v){
    const gl=mk(g,'line',{x1:fx(v),x2:fx(v),y1:p.t,y2:p.b,stroke:'#ececec',"stroke-width":3});
    
    
    const tk=mk(g,'line',{x1:fx(v),x2:fx(v),y1:p.b,y2:p.b+7,stroke:'#555',"stroke-width":2});
    
    
    const lb=mk(g,'text',{x:fx(v),y:p.b+28,"text-anchor":'middle',"font-size":25,fill:'#555'},String(v));
    
    
  });
  drawPoints(g,greyRows,fx,fy,'#bebebe','insignificant-point');
  drawPoints(g,downRows,fx,fy,'#006400','down-point');
  drawPoints(g,upRows,fx,fy,'#ee0000','up-point');
  [-1,1].forEach(function(v){
    const el=mk(g,'line',{x1:fx(v),x2:fx(v),y1:p.t,y2:p.b,stroke:'#333',"stroke-width":3.5,"stroke-dasharray":'22 9'});
    
    
  });
  const h=mk(g,'line',{x1:p.l,x2:p.r,y1:fy(1.3),y2:fy(1.3),stroke:'#333',"stroke-width":3.5,"stroke-dasharray":'22 9'});
  
  
  const fr=mk(g,'rect',{x:p.l,y:p.t,width:p.r-p.l,height:p.b-p.t,fill:'none',stroke:'#a8a8a8',"stroke-width":3});
  
  

  const xt=mk(g,'text',{x:fx(0),y:p.b+63,"text-anchor":'middle',"font-size":33.5,fill:'#111'});
  
  
  mk(xt,'tspan',{},'Log');
  mk(xt,'tspan',{dy:8,"font-size":23},'2');
  mk(xt,'tspan',{dy:-8},'(Fold Change)');

  const yt=mk(g,'text',{transform:'translate('+p.yt+',436) rotate(-90)',"text-anchor":'middle',"font-size":33,fill:'#111'});
  
  
  mk(yt,'tspan',{},'\u2212 Log');
  mk(yt,'tspan',{dy:8,"font-size":23},'10');
  mk(yt,'tspan',{dy:-8},'(P-value)');

  const t1=mk(g,'text',{x:p.lg,y:274,"font-size":33,fill:'#111'},'Statistics');
  
  
  const colors=['#f00','#008000','#c4c4c4'];
  legend.forEach(function(s,i){
    const yy=310+i*34.5;
    const d=mk(g,'circle',{cx:p.lg+18,cy:yy,r:5.5,fill:colors[i]});
    
    
    const t=mk(g,'text',{x:p.lg+54,y:yy+9,"font-size":26,fill:'#222'},s);
    
    
  });
  const t2=mk(g,'text',{x:p.lg,y:467,"font-size":33,fill:'#111'},'VIP');
  
  
  vipValues.forEach(function(v,i){
    const yy=503+i*34.7;
    const d=mk(g,'circle',{cx:p.lg+18,cy:yy,r:3.5+v*5,fill:'#222'});
    
    
    const t=mk(g,'text',{x:p.lg+54,y:yy+9,"font-size":26,fill:'#222'},vipLabels[i]);
    
    
  });
}

drawVolcano('chart-a',{l:160,r:1138,t:50,b:821,x0:648.4,xu:36.7,y0:787,yu:73.9,yt:92,lg:1173},aXTicks,aYTicks,aYTickLabels,aYMinor,aDownRows,aUpRows,aGreyRows,aLegend);
drawVolcano('chart-b',{l:1593,r:2529,t:50,b:824,x0:2060.5,xu:40.3,y0:790,yu:74.3,yt:1526,lg:2564},bXTicks,bYTicks,bYTickLabels,bYMinor,bDownRows,bUpRows,bGreyRows,bLegend);
drawVolcano('chart-c',{l:3047,r:3983,t:50,b:820,x0:3515,xu:54.8,y0:786,yu:65.1,yt:2996,lg:4018},cXTicks,cYTicks,cYTickLabels,cYMinor,cDownRows,cUpRows,cGreyRows,cLegend);

(function(){
  const g=document.getElementById('chart-e');
  const L=2476,R=4065,Y0=1934,unit=4.388;
  const band=(R-L)/barCategories.length;
  const fy=function(v){return Y0-v*unit;};
  const fx=function(i){return L+band*(i+0.5);};
  barValues.forEach(function(v,i){
    const bar=mk(g,'rect',{x:fx(i)-24,y:fy(v),width:48,height:v*unit,fill:'#38aed3',stroke:'#111',"stroke-width":2.5});
    
    
  });
  const ya=mk(g,'line',{x1:L,x2:L,y1:fy(225),y2:Y0+2,stroke:'#111',"stroke-width":3.5});
  
  
  const xa=mk(g,'line',{x1:L-2,x2:R,y1:Y0,y2:Y0,stroke:'#111',"stroke-width":4});
  
  
  barMajorTicks.forEach(function(v){
    const t=mk(g,'line',{x1:L-21,x2:L,y1:fy(v),y2:fy(v),stroke:'#111',"stroke-width":3});
    
    
    const lb=mk(g,'text',{class:'serif',x:L-32,y:fy(v)+14,"text-anchor":'end',"font-size":40,fill:'#111'},String(v));
    
    
  });
  barMinorTicks.forEach(function(v){
    const t=mk(g,'line',{x1:L-11,x2:L,y1:fy(v),y2:fy(v),stroke:'#111',"stroke-width":3});
    
    
  });
  barCategories.forEach(function(c,i){
    const t=mk(g,'line',{x1:fx(i),x2:fx(i),y1:Y0,y2:Y0+22,stroke:'#111',"stroke-width":3});
    
    
    const m=mk(g,'line',{x1:L+band*i,x2:L+band*i,y1:Y0,y2:Y0+11,stroke:'#111',"stroke-width":3});
    
    
    const lb=mk(g,'text',{class:'serif',transform:'translate('+(fx(i)+25)+',1992) rotate(-45)',"text-anchor":'end',"font-size":37.5,"font-style":'italic',fill:'#222'},c);
    
    
  });
  const m=mk(g,'line',{x1:R,x2:R,y1:Y0,y2:Y0+11,stroke:'#111',"stroke-width":3});
  
  
  const yt=mk(g,'text',{class:'serif',transform:'translate(2359,1439) rotate(-90)',"text-anchor":'middle',"font-size":51.5,fill:'#111'},'Number of common DAMs');
  
  
})();
</script>
</body>
</html>
